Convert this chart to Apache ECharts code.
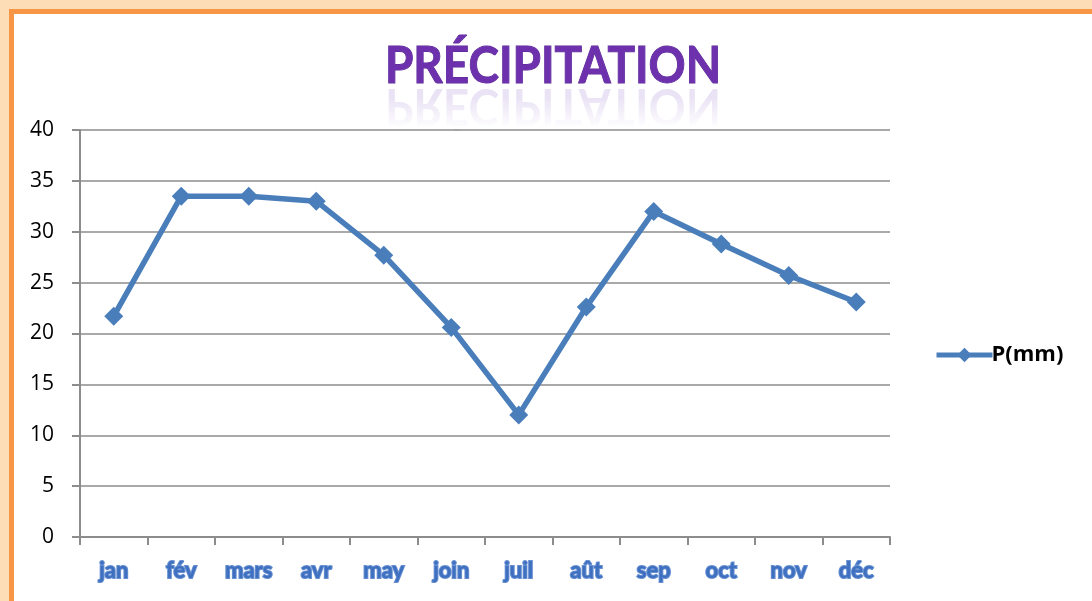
<!DOCTYPE html>
<html>
<head>
<meta charset="utf-8">
<script src="https://cdn.jsdelivr.net/npm/echarts@6/dist/echarts.min.js"></script>
<style>
  html, body { margin: 0; padding: 0; background: #fff; }
  #chart { width: 1092px; height: 601px; }
</style>
</head>
<body>
<div id="chart"></div>
<script>
// données du graphique
const months = ['jan', 'fév', 'mars', 'avr', 'may', 'join', 'juil', 'aût', 'sep', 'oct', 'nov', 'déc']
const precip = [21.7, 33.5, 33.5, 33.0, 27.7, 20.6, 12.0, 22.6, 32.0, 28.8, 25.7, 23.1]
const seriesName = 'P(mm)'
const titleText = 'PRÉCIPITATION'

const chart = echarts.init(document.getElementById('chart'))

// milieu du titre et ligne de base (pour le reflet)
const titleMid = 67
const titleBase = 86

const option = {
  animation: false,
  backgroundColor: '#fff',
  graphic: [
    // cadre orange
    { type: 'rect', z: -10, shape: { x: 0, y: 0, width: 1092, height: 601 },
      style: { fill: '#fdddb5' } },
    { type: 'rect', z: -9, shape: { x: 9, y: 9, width: 1083, height: 592 },
      style: { fill: '#f79646' } },
    { type: 'rect', z: -8, shape: { x: 14, y: 14, width: 1078, height: 587 },
      style: { fill: '#fff' } },
    // titre + reflet
    {
      type: 'text', x: 553, y: titleMid, scaleX: 0.9,
      style: {
        text: titleText, x: 0, y: 0, align: 'center', verticalAlign: 'middle',
        font: 'bold 51px Lato',
        fill: '#6d31ae',
        stroke: '#5a2894',
        lineWidth: 1
      }
    },
    {
      type: 'text', x: 553, y: 2 * titleBase - titleMid, scaleX: 0.9, scaleY: -1,
      style: {
        text: titleText, x: 0, y: 0, align: 'center', verticalAlign: 'middle',
        font: 'bold 51px Lato',
        fill: 'rgba(140,100,200,0.18)'
      }
    },
    // masques pour estomper le bas du reflet
    {
      type: 'rect', shape: { x: 380, y: 98, width: 350, height: 31 },
      style: {
        fill: new echarts.graphic.LinearGradient(0, 0, 0, 1, [
          { offset: 0, color: 'rgba(255,255,255,0)' },
          { offset: 1, color: 'rgba(255,255,255,1)' }
        ])
      }
    },
    {
      type: 'rect', shape: { x: 380, y: 131, width: 350, height: 10 },
      style: { fill: '#fff' }
    }
  ],
  grid: {
    left: 80,
    right: 202,
    top: 130,
    bottom: 64
  },
  legend: {
    left: 929,
    top: 339,
    itemWidth: 56,
    itemHeight: 18,
    itemGap: 4,
    data: [seriesName],
    lineStyle: { width: 5 },
    textStyle: {
      fontFamily: 'Open Sans',
      fontWeight: 'bold',
      fontSize: 22,
      color: '#000',
      padding: [0, 0, 0, -6]
    }
  },
  xAxis: {
    type: 'category',
    data: months,
    boundaryGap: true,
    axisLine: { lineStyle: { color: '#8c8c8c', width: 2 } },
    axisTick: { show: true, length: 8, lineStyle: { color: '#8c8c8c', width: 2 } },
    axisLabel: {
      margin: 23,
      fontFamily: 'Lato',
      fontWeight: 'bold',
      fontSize: 22,
      color: '#3f70c0',
      textBorderColor: '#6790d2',
      textBorderWidth: 2
    }
  },
  yAxis: {
    type: 'value',
    min: 0,
    max: 40,
    interval: 5,
    axisLine: { show: true, lineStyle: { color: '#8c8c8c', width: 2 } },
    axisTick: { show: true, length: 8, lineStyle: { color: '#8c8c8c', width: 2 } },
    splitLine: { lineStyle: { color: '#8c8c8c', width: 1.5 } },
    axisLabel: {
      margin: 26,
      fontFamily: 'Open Sans',
      fontSize: 21,
      color: '#000'
    }
  },
  series: [
    {
      name: seriesName,
      type: 'line',
      data: precip,
      symbol: 'diamond',
      symbolSize: 19,
      lineStyle: { color: '#4a7ebb', width: 5.5 },
      itemStyle: { color: '#4a7ebb' }
    }
  ]
}

chart.setOption(option)
</script>
</body>
</html>
